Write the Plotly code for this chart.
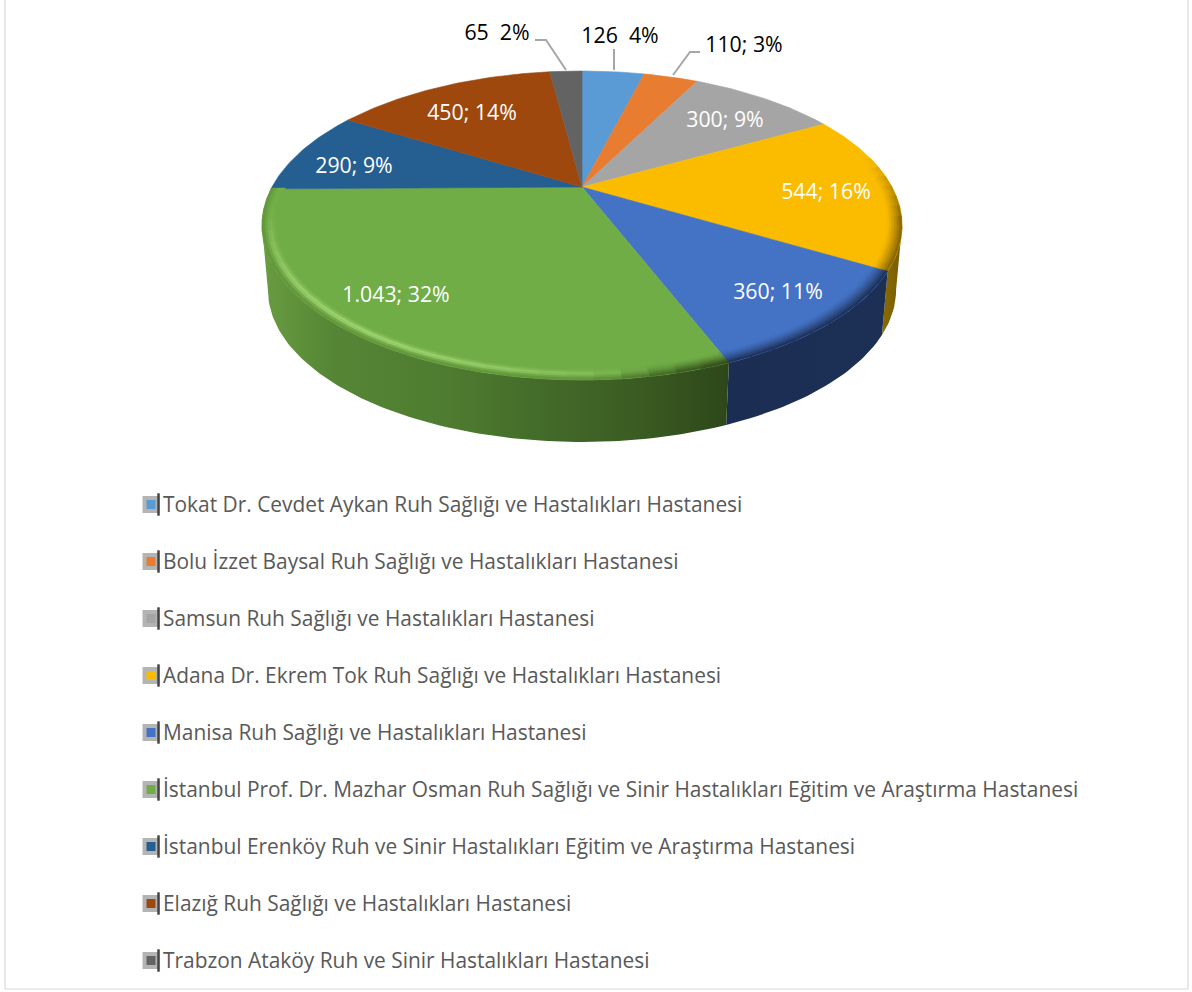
import math
import plotly.graph_objects as go

# ---------- data ----------
categories = [
    "Tokat Dr. Cevdet Aykan Ruh Sağlığı ve Hastalıkları Hastanesi",
    "Bolu İzzet Baysal Ruh Sağlığı ve Hastalıkları Hastanesi",
    "Samsun Ruh Sağlığı ve Hastalıkları Hastanesi",
    "Adana Dr. Ekrem Tok Ruh Sağlığı ve Hastalıkları Hastanesi",
    "Manisa Ruh Sağlığı ve Hastalıkları Hastanesi",
    "İstanbul Prof. Dr. Mazhar Osman Ruh Sağlığı ve Sinir Hastalıkları Eğitim ve Araştırma Hastanesi",
    "İstanbul Erenköy Ruh ve Sinir Hastalıkları Eğitim ve Araştırma Hastanesi",
    "Elazığ Ruh Sağlığı ve Hastalıkları Hastanesi",
    "Trabzon Ataköy Ruh ve Sinir Hastalıkları Hastanesi",
]
values = [126, 110, 300, 544, 360, 1043, 290, 450, 65]
data_labels = ["126  4%", "110; 3%", "300; 9%", "544; 16%", "360; 11%",
               "1.043; 32%", "290; 9%", "450; 14%", "65  2%"]

# ---------- styles ----------
colors = ["#5b9bd5", "#e87c30", "#a5a5a5", "#fbbc00", "#4472c4",
          "#70ad47", "#255e91", "#9e480e", "#636363"]
wall_scales = {
    3: [[0, "#8a6a00"], [1, "#7a5c00"]],
    4: [[0, "#1b2d52"], [1, "#1c2f55"]],
    5: [[0, "#68a040"], [0.02, "#66993f"], [0.15, "#558635"], [0.41, "#4e7b30"],
        [0.61, "#436a29"], [0.82, "#3a5a22"], [1, "#2e4719"]],
}
wall_edge = {3: "#7f6000", 4: "#1b2d52", 5: "#4e7b30"}
label_pos = [(620, 38), (744, 47), (725, 122), (826, 194), (778, 294),
             (396, 297), (354, 168), (472, 115), (497, 35)]
label_col = ["black", "black", "white", "white", "white", "white", "white", "white", "black"]
LEADERS = [(8, [(535, 40), (546, 40), (566, 70)]),
           (0, [(614, 49), (614, 70)]),
           (1, [(700, 52), (690, 52), (673, 75)])]
LABEL_FONT = "Open Sans"
LABEL_SIZE = 21.3
LEG_FONT = "Open Sans"
LEG_SIZE = 20.9
LEG_Y0, LEG_DY = 504, 57

# ---------- pie projection ----------
CX, APEX = 582, 187
K, A, B = 0.249, 144.9, 310.0
VIEW_WARP = 2.6                      # degrees, renderer's view distortion
TH_R = math.degrees(math.acos(-K))   # rightmost point of the rim
TH_L = 360 - TH_R                    # leftmost point of the rim


def top_pt(deg, r=1.0):
    th = math.radians(deg)
    x, y = r * math.sin(th), r * math.cos(th)
    d = 1 + K * y
    return CX + B * x / d, APEX - A * y / d


def bot_pt(deg):
    x, y = top_pt(deg)
    return CX + (x - CX) * 314 / 320, 290 + (y - 225.5) * 152 / 154.5


def arc(f, a0, a1, step=1.0):
    n = max(2, int(abs(a1 - a0) / step) + 1)
    return [f(a0 + (a1 - a0) * i / (n - 1)) for i in range(n)]


def hex2rgb(c):
    return tuple(int(c[i:i + 2], 16) for i in (1, 3, 5))


def rgb2hex(t):
    return "#%02x%02x%02x" % tuple(round(v) for v in t)


def mix(c1, c2, t):
    a, b = hex2rgb(c1), hex2rgb(c2)
    t = max(0, min(1, t))
    return rgb2hex([a[i] + (b[i] - a[i]) * t for i in range(3)])


total = sum(values)
bounds = [0]
for v in values:
    bounds.append(bounds[-1] + v / total * 360)
bounds = [b + VIEW_WARP * math.sin(math.radians(b)) for b in bounds]

fig = go.Figure()


def poly(pts, **kw):
    fig.add_trace(go.Scatter(x=[p[0] for p in pts], y=[p[1] for p in pts], mode="lines",
                             fill="toself", hoverinfo="skip", showlegend=False, **kw))


# side walls, only the front slices can be seen
for i in (3, 4, 5):
    a0, a1 = max(bounds[i], TH_R), min(bounds[i + 1], TH_L)
    pts = arc(top_pt, a0, a1) + arc(bot_pt, a1, a0)
    poly(pts, line=dict(width=0), fillcolor=wall_edge[i], name=categories[i],
         fillgradient=dict(type="horizontal", colorscale=wall_scales[i]))

# top faces
for i, c in enumerate(colors):
    a0, a1 = bounds[i], bounds[i + 1]
    poly([(CX, APEX)] + arc(top_pt, a0, a1) + [(CX, APEX)],
         line=dict(width=0.6, color=c), fillcolor=c, name=categories[i])

# bevel band along the front rim
RIM_IN = 0.955
NB = 6


def highlight(deg):
    h = 1 - ((deg - 215) / 48) ** 2
    return max(0.1, h) if deg >= 215 else max(0.0, h)


for i in (3, 4, 5):
    a0, a1 = max(bounds[i], 78), bounds[i + 1]
    n = max(2, int((a1 - a0) / 4) + 1)
    for s in range(n):
        d0 = a0 + (a1 - a0) * s / n
        d1 = a0 + (a1 - a0) * (s + 1) / n
        mid = (d0 + d1) / 2
        for b in range(NB):
            u = (b + 0.5) / NB
            r0 = RIM_IN + (1 - RIM_IN) * b / NB
            r1 = RIM_IN + (1 - RIM_IN) * (b + 1) / NB
            if i == 5:
                col = mix(colors[i], "#a8dc78", highlight(mid) * math.exp(-((u - 0.5) / 0.24) ** 2))
                col = mix(col, "#5f9339", u ** 3)
                dark = min(1.0, max(0.0, (178 - mid) / 16))
                if dark > 0:
                    col = mix(col, "#2e4719", dark * u ** 1.3)
            else:
                ramp = min(1, max(0, (mid - 78) / 25)) if i == 3 else 1
                col = mix(colors[i], wall_edge[i], ramp * u ** 1.3)
            pts = [top_pt(d0, r0), top_pt(d1 + 0.3, r0), top_pt(d1 + 0.3, r1), top_pt(d0, r1), top_pt(d0, r0)]
            poly(pts, line=dict(width=0.5, color=col), fillcolor=col)

# data labels
fig.add_trace(go.Scatter(
    x=[p[0] for p in label_pos], y=[p[1] for p in label_pos], text=data_labels, mode="text",
    textposition="middle center", hoverinfo="skip", showlegend=False,
    textfont=dict(family=LABEL_FONT, size=LABEL_SIZE, color=label_col)))

# leader lines
shapes = [dict(type="path", xref="x", yref="y",
               path="M" + " L".join(f"{x},{y}" for x, y in pts),
               line=dict(color="#a6a6a6", width=2)) for _, pts in LEADERS]

# chart border
shapes.append(dict(type="rect", xref="x", yref="y", x0=5, x1=1188, y0=-5, y1=989,
                   line=dict(color="#d9d9d9", width=1.2), layer="below"))

# legend
ys = [LEG_Y0 + LEG_DY * i for i in range(len(categories))]
KX = 151
fig.add_trace(go.Scatter(x=[KX] * len(ys), y=[y + 0.5 for y in ys], mode="markers", hoverinfo="skip",
                         showlegend=False, marker=dict(symbol="square", size=17, color="#b4b4b4", line=dict(width=0))))
fig.add_trace(go.Scatter(x=[KX + 7.5] * len(ys), y=[y + 0.5 for y in ys], mode="markers", hoverinfo="skip",
                         showlegend=False, marker=dict(symbol="line-ns", size=16, line=dict(width=2.5, color="#444444"))))
fig.add_trace(go.Scatter(x=[KX] * len(ys), y=[y + 0.5 for y in ys], mode="markers", hoverinfo="skip",
                         showlegend=False, marker=dict(symbol="square", size=9, color=colors, line=dict(width=0))))
anns = [dict(x=160.5, y=y, xref="x", yref="y", text=t, showarrow=False, xanchor="left", yanchor="middle",
             font=dict(family=LEG_FONT, size=LEG_SIZE, color="#595959"))
        for t, y in zip(categories, ys)]

fig.update_layout(
    width=1192, height=992, margin=dict(l=0, r=0, t=0, b=0),
    paper_bgcolor="white", plot_bgcolor="white", showlegend=False,
    xaxis=dict(range=[0, 1192], visible=False, fixedrange=True),
    yaxis=dict(range=[992, 0], visible=False, fixedrange=True),
    shapes=shapes, annotations=anns,
)
fig.write_html("out.html", config=dict(displayModeBar=False),
               post_script="document.body.style.margin='0';document.body.style.overflow='hidden';")
